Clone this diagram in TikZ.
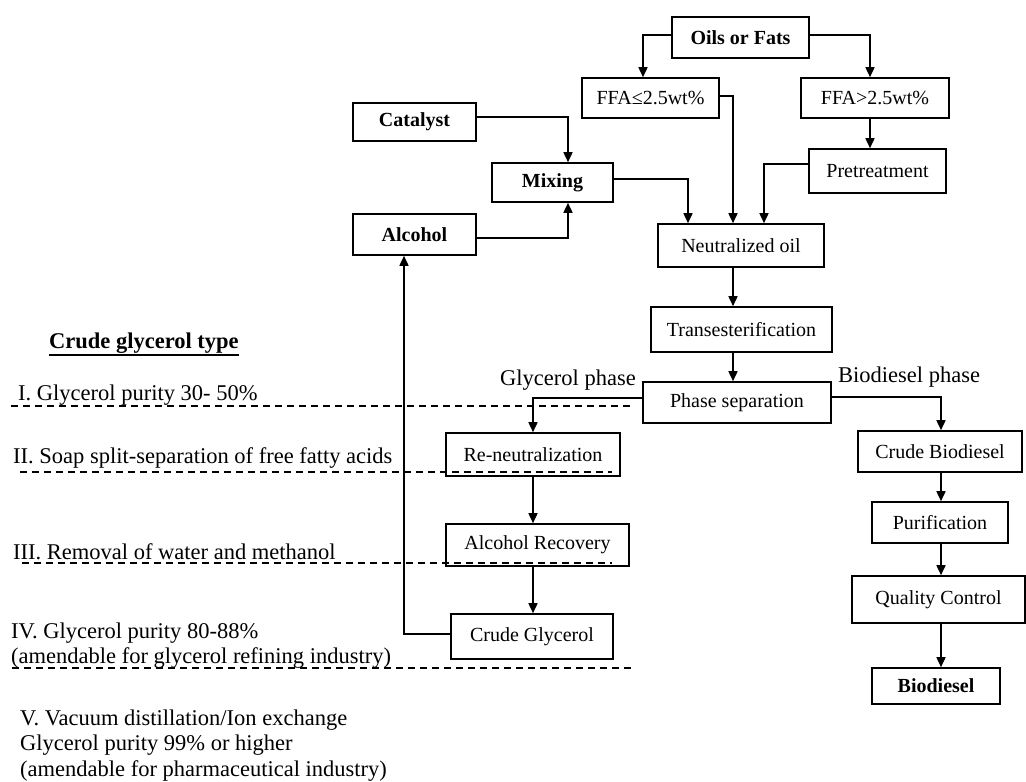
\documentclass[tikz,border=0pt]{standalone}
\usepackage{fontspec}
\setmainfont{Liberation Serif}
\usetikzlibrary{arrows.meta,calc}
\begin{document}
\begin{tikzpicture}[x=1pt,y=-1pt,
  box/.style={draw,line width=1.6pt,inner sep=0pt,font=\fontsize{20}{24}\selectfont},
  bbox/.style={box,font=\fontsize{20}{24}\selectfont\bfseries},
  arr/.style={line width=1.6pt,-{Triangle[length=10pt,width=9pt]}},
  lbl/.style={inner sep=0pt,anchor=west,font=\fontsize{22.5}{26}\selectfont},
  dsh/.style={line width=1.4pt,dash pattern=on 7pt off 5pt}]
\useasboundingbox (0,0) rectangle (1026,782);
% boxes
\node[bbox,minimum width=137pt,minimum height=41pt] (oils) at (740.5,37.5) {Oils or Fats};
\node[box,minimum width=137pt,minimum height=40pt] (ffa1) at (650.5,98) {FFA≤2.5wt\%};
\node[box,minimum width=148pt,minimum height=40pt] (ffa2) at (875,98) {FFA>2.5wt\%};
\node[bbox,minimum width=123pt,minimum height=38pt] (cat) at (414.5,122) {Catalyst};
\node[box,minimum width=137pt,minimum height=44pt] (pre) at (877.5,171) {Pretreatment};
\node[bbox,minimum width=121pt,minimum height=39pt] (mix) at (552.5,182.5) {Mixing};
\node[bbox,minimum width=123pt,minimum height=41pt] (alc) at (414.5,234.5) {Alcohol};
\node[box,minimum width=166pt,minimum height=43pt] (neu) at (741,245.5) {Neutralized oil};
\node[box,minimum width=181pt,minimum height=45pt] (tra) at (741.5,329.5) {Transesterification};
\node[box,minimum width=188pt,minimum height=41pt] (pha) at (737,402.5) {Phase separation};
\node[box,minimum width=174pt,minimum height=43pt] (ren) at (533,454.5) {Re-neutralization};
\node[box,minimum width=164pt,minimum height=41pt] (cbd) at (940,451.5) {Crude Biodiesel};
\node[box,minimum width=183pt,minimum height=42pt] (aro) at (537.5,545) {Alcohol Recovery};
\node[box,minimum width=136pt,minimum height=41pt] (pur) at (940,522.5) {Purification};
\node[box,minimum width=173pt,minimum height=47pt] (qc) at (938.5,599.5) {Quality Control};
\node[box,minimum width=162pt,minimum height=45pt] (cgl) at (532,636.5) {Crude Glycerol};
\node[bbox,minimum width=128pt,minimum height=36pt] (bio) at (936,686) {Biodiesel};
% phase labels
\node[lbl,anchor=east] (gp) at (636,380) {Glycerol phase};
\node[lbl] (bp) at (838,377) {Biodiesel phase};
% connectors
\draw[arr] ([yshift=2.5pt]oils.west) -| ([xshift=-7.5pt]ffa1.north);
\draw[arr] ([yshift=2.5pt]oils.east) -| ([xshift=-5pt]ffa2.north);
\draw[arr] ([xshift=-5pt]ffa2.south) -- ([xshift=-5pt]ffa2.south |- pre.north);
\draw[arr] ([yshift=5pt]cat.east) -| ([xshift=15.5pt]mix.north);
\draw[arr] ([yshift=-3.5pt]alc.east) -| ([xshift=15.5pt]mix.south);
\draw[arr] ([yshift=3.5pt]mix.east) -| ([xshift=-53pt]neu.north);
\draw[arr] ([yshift=2pt]ffa1.east) -| ([xshift=-8pt]neu.north);
\draw[arr] ([yshift=7pt]pre.west) -| ([xshift=23pt]neu.north);
\draw[arr] ([xshift=-8pt]neu.south) -- ([xshift=-8pt]neu.south |- tra.north);
\draw[arr] ([xshift=-8pt]neu.south |- tra.south) -- ([xshift=-8pt]neu.south |- pha.north);
\draw[arr] ([yshift=5.5pt]pha.east) -| ([xshift=1pt]cbd.north);
\draw[arr] ([yshift=4.5pt]pha.west) -| (ren.north);
\draw[arr] (ren.south) -- (ren.south |- aro.north);
\draw[arr] (ren.south |- aro.south) -- (ren.south |- cgl.north);
\draw[arr] ([yshift=2.5pt]cgl.west) -| ([xshift=-10.5pt]alc.south);
\draw[arr] ([xshift=1pt]cbd.south) -- ([xshift=1pt]cbd.south |- pur.north);
\draw[arr] ([xshift=1pt]cbd.south |- pur.south) -- ([xshift=1pt]cbd.south |- qc.north);
\draw[arr] ([xshift=1pt]cbd.south |- qc.south) -- ([xshift=1pt]cbd.south |- bio.north);
% left legend
\node[lbl,font=\fontsize{22.5}{26}\selectfont\bfseries] (ct) at (49,343) {Crude glycerol type};
\draw[line width=2pt] ([yshift=-7pt]ct.base west) -- ([yshift=-7pt]ct.base east);
\node[lbl] (t1) at (18,395) {I. Glycerol purity 30- 50\%};
\node[lbl] (t2) at (13,458) {II. Soap split-separation of free fatty acids};
\node[lbl] (t3) at (13,552) {III. Removal of water and methanol};
\node[lbl] (t4a) at (11,633) {IV. Glycerol purity 80-88\%};
\node[lbl] (t4b) at (11,658) {(amendable for glycerol refining industry)};
\node[lbl] (t5a) at (20,720) {V. Vacuum distillation/Ion exchange};
\node[lbl] (t5b) at (20,745) {Glycerol purity 99\% or higher};
\node[lbl] (t5c) at (20,771) {(amendable for pharmaceutical industry)};
% dashed separators
\draw[dsh] (11,406) -- (632,406);
\draw[dsh] (20,472) -- (612,472);
\draw[dsh] (22,563) -- (612,563);
\draw[dsh] (12,668) -- (632,668);
\end{tikzpicture}
\end{document}
